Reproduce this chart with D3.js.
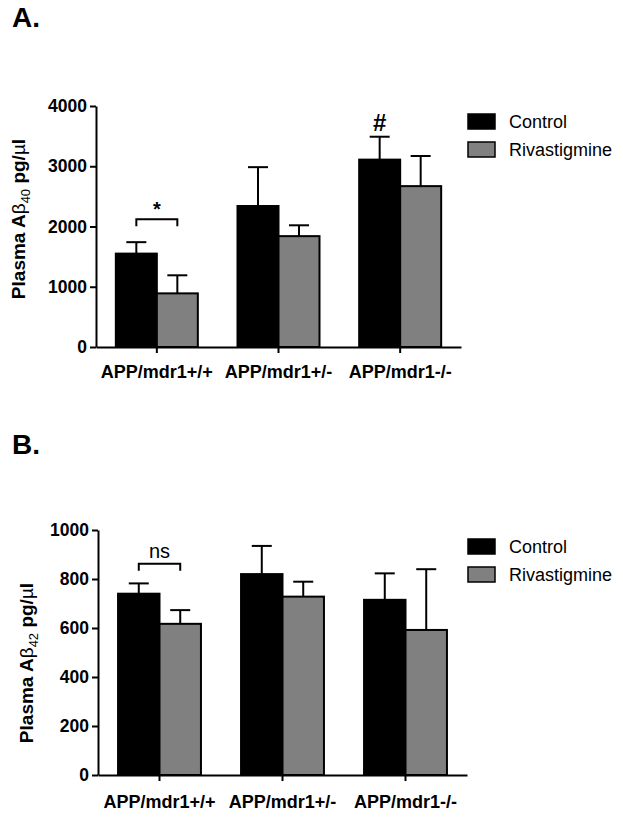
<!DOCTYPE html>
<html>
<head>
<meta charset="utf-8">
<script src="https://cdn.jsdelivr.net/npm/d3@7"></script>
<style>
  html, body { margin: 0; padding: 0; background: #fff; }
  svg { display: block; }
  text { font-family: "Liberation Sans", Arial, Helvetica, sans-serif; fill: #000; }
</style>
</head>
<body>
<svg id="chart" width="623" height="818"></svg>
<script>
// ---------- Data ----------
const categories = ["APP/mdr1+/+", "APP/mdr1+/-", "APP/mdr1-/-"];
const seriesNames = ["Control", "Rivastigmine"];
const seriesColors = ["#000000", "#808080"];

// Panel A: Plasma Aβ40 (pg/µl)
const a40Control = [1550, 2340, 3110];
const a40ControlErr = [190, 645, 380];
const a40Riva = [890, 1840, 2670];
const a40RivaErr = [300, 180, 500];
const a40Ticks = [0, 1000, 2000, 3000, 4000];

// Panel B: Plasma Aβ42 (pg/µl)
const a42Control = [740, 820, 715];
const a42ControlErr = [42, 115, 108];
const a42Riva = [617, 728, 592];
const a42RivaErr = [56, 61, 248];
const a42Ticks = [0, 200, 400, 600, 800, 1000];

const svg = d3.select("#chart");

function drawPanel(cfg) {
  const g = svg.append("g");
  const x = d3.scaleBand().domain(categories).range([cfg.left, cfg.right])
    .paddingInner(0.326).paddingOuter(0.163);
  const xs = d3.scaleBand().domain(seriesNames).range([0, x.bandwidth()]);
  const y = d3.scaleLinear().domain([0, cfg.max]).range([cfg.bottom, cfg.top]);

  const vals = [cfg.control, cfg.riva];
  const errs = [cfg.controlErr, cfg.rivaErr];

  // error bars (drawn first, so the bar top covers the base)
  seriesNames.forEach((s, si) => {
    categories.forEach((c, ci) => {
      const cx = x(c) + xs(s) + xs.bandwidth() / 2;
      const v = vals[si][ci], e = errs[si][ci];
      g.append("line").attr("x1", cx).attr("x2", cx)
        .attr("y1", y(v)).attr("y2", y(v + e))
        .attr("stroke", "#000").attr("stroke-width", 2);
      g.append("line").attr("x1", cx - 10).attr("x2", cx + 10)
        .attr("y1", y(v + e)).attr("y2", y(v + e))
        .attr("stroke", "#000").attr("stroke-width", 2);
    });
  });

  // bars
  seriesNames.forEach((s, si) => {
    g.selectAll(null).data(categories).enter().append("rect")
      .attr("x", c => x(c) + xs(s))
      .attr("y", (c, ci) => y(vals[si][ci]))
      .attr("width", xs.bandwidth())
      .attr("height", (c, ci) => y(0) - y(vals[si][ci]))
      .attr("fill", seriesColors[si])
      .attr("stroke", "#000").attr("stroke-width", 2);
  });

  // y axis
  const yAxis = g.append("g").attr("transform", `translate(${cfg.left},0)`)
    .call(d3.axisLeft(y).tickValues(cfg.ticks).tickSize(6).tickSizeOuter(0).tickPadding(3).tickFormat(d3.format("d")));
  yAxis.select(".domain").attr("stroke-width", 2);
  yAxis.selectAll(".tick line").attr("stroke-width", 2);
  yAxis.selectAll("text").attr("font-size", "17.5px").attr("font-weight", "bold")
    .attr("font-family", "'Liberation Sans', Arial, sans-serif");

  // x axis
  const xAxis = g.append("g").attr("transform", `translate(0,${cfg.bottom})`)
    .call(d3.axisBottom(x).tickSize(6).tickSizeOuter(0));
  xAxis.select(".domain").attr("stroke-width", 2);
  xAxis.selectAll(".tick line").attr("stroke-width", 2);
  xAxis.selectAll("text").attr("font-size", "18px").attr("font-weight", "bold")
    .attr("font-family", "'Liberation Sans', Arial, sans-serif")
    .attr("y", cfg.xLabelOffset).attr("dy", null);

  // y-axis title
  const t = g.append("text")
    .attr("transform", `translate(${cfg.titleX},${cfg.titleY}) rotate(-90)`)
    .attr("text-anchor", "middle").attr("font-size", "19px").attr("font-weight", "bold");
  t.append("tspan").text("Plasma A");
  t.append("tspan").attr("font-weight", "normal").text("β");
  t.append("tspan").attr("font-size", "13px").attr("font-weight", "normal").attr("dy", 5).text(cfg.sub);
  t.append("tspan").attr("dy", -5).text(" pg/");
  t.append("tspan").attr("font-weight", "normal").text("µ");
  t.append("tspan").text("l");

  // panel letter
  g.append("text").attr("x", 12).attr("y", cfg.letterY)
    .attr("font-size", "28px").attr("font-weight", "bold").text(cfg.letter);

  // significance bracket on first group
  const c0 = categories[0];
  const bx1 = x(c0) + xs(seriesNames[0]) + xs.bandwidth() / 2;
  const bx2 = x(c0) + xs(seriesNames[1]) + xs.bandwidth() / 2;
  const by = y(cfg.bracketVal);
  g.append("path")
    .attr("d", `M${bx1},${by + 7}V${by}H${bx2}V${by + 7}`)
    .attr("fill", "none").attr("stroke", "#000").attr("stroke-width", 2);
  g.append("text").attr("x", (bx1 + bx2) / 2).attr("y", by - cfg.sigGap)
    .attr("text-anchor", "middle").attr("font-size", cfg.sigSize)
    .attr("font-weight", cfg.sigWeight).text(cfg.sig);

  if (cfg.hash) {
    const hx = x(categories[2]) + xs(seriesNames[0]) + xs.bandwidth() / 2;
    const hv = cfg.control[2] + cfg.controlErr[2];
    g.append("text").attr("x", hx).attr("y", y(hv) - 6)
      .attr("text-anchor", "middle").attr("font-size", "24px").attr("font-weight", "bold").text("#");
  }

  // legend
  const lg = g.append("g");
  seriesNames.forEach((s, i) => {
    const ly = cfg.legendY + i * 28;
    lg.append("rect").attr("x", 468).attr("y", ly).attr("width", 27).attr("height", 15)
      .attr("fill", seriesColors[i]).attr("stroke", "#000").attr("stroke-width", 1.5);
    lg.append("text").attr("x", 509).attr("y", ly + 14)
      .attr("font-size", "18px").text(s);
  });
}

drawPanel({
  left: 96, right: 461, top: 106, bottom: 347, max: 4000, ticks: a40Ticks,
  control: a40Control, controlErr: a40ControlErr, riva: a40Riva, rivaErr: a40RivaErr,
  sub: "40", titleX: 25, titleY: 219, letter: "A.", letterY: 27,
  bracketVal: 2120, sig: "*", sigSize: "20px", sigWeight: "bold", sigGap: 3,
  hash: true, legendY: 114, xLabelOffset: 31
});

drawPanel({
  left: 98, right: 467, top: 530, bottom: 775, max: 1000, ticks: a42Ticks,
  control: a42Control, controlErr: a42ControlErr, riva: a42Riva, rivaErr: a42RivaErr,
  sub: "42", titleX: 33, titleY: 663, letter: "B.", letterY: 454,
  bracketVal: 862, sig: "ns", sigSize: "20px", sigWeight: "normal", sigGap: 6,
  hash: false, legendY: 539, xLabelOffset: 33
});
</script>
</body>
</html>
